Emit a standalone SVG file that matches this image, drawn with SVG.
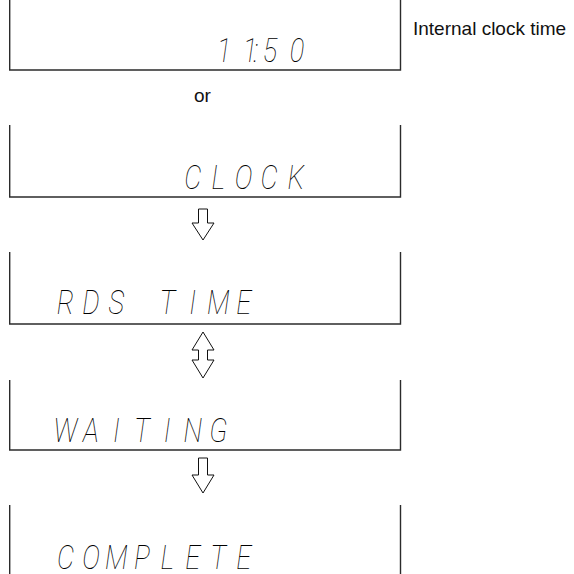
<svg xmlns="http://www.w3.org/2000/svg" width="574" height="574" viewBox="0 0 574 574">
<style>
.frame{fill:none;stroke:#2b2b2b;stroke-width:1.4}
.lcd{font-family:Roboto,"DejaVu Sans",sans-serif;font-weight:100;font-style:italic;font-size:34px;fill:#000;text-anchor:middle}
.label{font-family:"Liberation Sans",Arial,sans-serif;font-size:19px;fill:#111}
.arrow{fill:#fff;stroke:#111;stroke-width:1;stroke-linejoin:miter}
</style>
<rect width="574" height="574" fill="#fff"/>
<g id="node-clock-time">
<path class="frame" d="M9.7,-2 V70 H400.5 V-2"/>
<g transform="translate(0 62) scale(0.8 1)"><text class="lcd" x="280 312.5 320 337.5 371.25" y="0">11:50</text></g>
</g>
<g id="label-internal"><text class="label" x="413" y="35">Internal clock time</text></g>
<g id="label-or"><text class="label" x="202.5" y="102" text-anchor="middle" font-size="20">or</text></g>
<g id="node-clock">
<path class="frame" d="M9.7,125 V197 H400.5 V125"/>
<g transform="translate(0 189) scale(0.8 1)"><text class="lcd" x="240.94 272.75 304.56 336.38 370" y="0">CLOCK</text></g>
</g>
<g id="node-rds-time">
<path class="frame" d="M9.7,252 V324 H400.5 V252"/>
<g transform="translate(0 314) scale(0.8 1)"><text class="lcd" x="81.88 113.69 145.5 177.31 209.13 240.94 272.75 304.56" y="0">RDS TIME</text></g>
</g>
<g id="node-waiting">
<path class="frame" d="M9.7,380 V450 H400.5 V380"/>
<g transform="translate(0 442) scale(0.8 1)"><text class="lcd" x="81.88 113.69 145.5 177.31 209.13 240.94 272.75" y="0">WAITING</text></g>
</g>
<g id="node-complete">
<path class="frame" d="M9.7,505 V578 H400.5 V505"/>
<g transform="translate(0 569) scale(0.8 1)"><text class="lcd" x="81.88 113.69 145.5 177.31 209.13 240.94 272.75 304.56" y="0">COMPLETE</text></g>
</g>
<g id="connectors">
<polygon class="arrow" points="198.5,209 207.5,209 207.5,223 214,223 203,240 192,223 198.5,223"/>
<polygon class="arrow" points="203,332 214,350 207.5,350 207.5,360 214,360 203,378 192,360 198.5,360 198.5,350 192,350"/>
<polygon class="arrow" points="198.5,458 207.5,458 207.5,475 214,475 203,493 192,475 198.5,475"/>
</g>
</svg>
